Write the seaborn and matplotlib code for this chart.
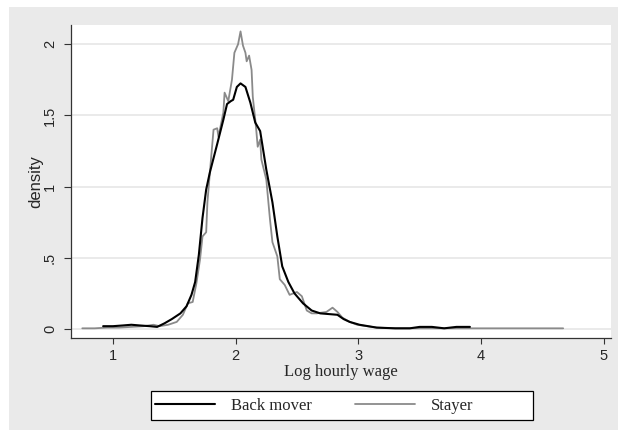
import numpy as np
import pandas as pd
import seaborn as sns
import matplotlib.pyplot as plt
from matplotlib.patches import Rectangle
from matplotlib.lines import Line2D

# density estimates (log hourly wage vs density)
back_x = [0.92, 1.00, 1.08, 1.15, 1.22, 1.30, 1.36, 1.42, 1.48, 1.55, 1.60, 1.64,
          1.67, 1.70, 1.73, 1.76, 1.79, 1.85, 1.90, 1.93, 1.96, 1.98, 2.01, 2.04,
          2.08, 2.12, 2.16, 2.20, 2.25, 2.30, 2.34, 2.38, 2.43, 2.48, 2.55, 2.62,
          2.69, 2.76, 2.83, 2.88, 2.93, 3.01, 3.08, 3.15, 3.30, 3.42, 3.50, 3.60,
          3.70, 3.80, 3.91]
back_y = [0.02, 0.02, 0.025, 0.03, 0.025, 0.02, 0.015, 0.04, 0.07, 0.11, 0.16, 0.24,
          0.33, 0.52, 0.78, 0.98, 1.10, 1.30, 1.47, 1.58, 1.60, 1.61, 1.70, 1.725,
          1.70, 1.59, 1.45, 1.39, 1.12, 0.89, 0.65, 0.44, 0.33, 0.25, 0.18, 0.13,
          0.11, 0.105, 0.10, 0.07, 0.05, 0.03, 0.02, 0.01, 0.005, 0.005, 0.015, 0.015,
          0.005, 0.015, 0.015]

stay_x = [0.75, 0.85, 0.95, 1.05, 1.15, 1.25, 1.33, 1.38, 1.45, 1.52, 1.57, 1.61,
          1.65, 1.68, 1.71, 1.73, 1.76, 1.77, 1.80, 1.82, 1.85, 1.86, 1.90, 1.91,
          1.94, 1.97, 1.99, 2.02, 2.04, 2.06, 2.08, 2.09, 2.11, 2.13, 2.14, 2.16,
          2.17, 2.18, 2.20, 2.21, 2.25, 2.28, 2.30, 2.34, 2.36, 2.40, 2.44, 2.47,
          2.50, 2.54, 2.58, 2.62, 2.66, 2.74, 2.79, 2.83, 2.87, 2.93, 2.99, 3.07,
          3.15, 3.30, 3.60, 4.00, 4.30, 4.67]
stay_y = [0.005, 0.005, 0.01, 0.01, 0.015, 0.02, 0.03, 0.02, 0.03, 0.05, 0.10, 0.18,
          0.19, 0.32, 0.49, 0.65, 0.68, 0.89, 1.20, 1.40, 1.41, 1.35, 1.52, 1.66,
          1.60, 1.75, 1.94, 2.00, 2.09, 1.99, 1.94, 1.88, 1.92, 1.82, 1.63, 1.47,
          1.38, 1.28, 1.33, 1.19, 1.05, 0.77, 0.61, 0.51, 0.35, 0.31, 0.24, 0.25,
          0.26, 0.23, 0.13, 0.11, 0.11, 0.12, 0.15, 0.12, 0.08, 0.05, 0.03, 0.02,
          0.01, 0.005, 0.005, 0.005, 0.005, 0.005]

groups = ['Back mover', 'Stayer']
colors = {'Back mover': 'black', 'Stayer': '#8a8a8a'}
widths = {'Back mover': 1.5, 'Stayer': 1.3}
y_ticks = [0, 0.5, 1, 1.5, 2]
y_labels = ['0', '.5', '1', '1.5', '2']
x_ticks = [1, 2, 3, 4, 5]

df = pd.concat([
    pd.DataFrame({'wage': back_x, 'density': back_y, 'group': groups[0]}),
    pd.DataFrame({'wage': stay_x, 'density': stay_y, 'group': groups[1]}),
])

sns.set_style('white')
plt.rcParams['font.family'] = ['Liberation Sans', 'DejaVu Sans']

W, H = 618, 430
fig = plt.figure(figsize=(W / 100, H / 100), dpi=100, facecolor='white')
# grey outer region (Stata style background)
fig.add_artist(Rectangle((9 / W, 0), 1, 1 - 7 / H, transform=fig.transFigure,
                         facecolor='#eaeaea', edgecolor='none', zorder=-5))

ax = fig.add_axes([71 / W, 1 - 338 / H, (611 - 71) / W, (338 - 25) / H])
ax.set_facecolor('white')

# stayer drawn first so back movers sit on top
for g in ['Stayer', 'Back mover']:
    sns.lineplot(data=df[df['group'] == g], x='wage', y='density', color=colors[g],
                 lw=widths[g], estimator=None, sort=False, ax=ax, legend=False)

ax.set_xlim(0.658, 5.06)
ax.set_ylim(-0.063, 2.135)
ax.set_yticks(y_ticks)
ax.set_yticklabels(y_labels, rotation=90, va='center', fontsize=10.5)
ax.set_xticks(x_ticks)
ax.set_xticklabels([str(t) for t in x_ticks], fontsize=10.5)
ax.grid(axis='y', color='#e8e8e8', lw=1.3)
ax.set_axisbelow(True)
ax.tick_params(axis='both', direction='out', width=0.8, color='#333333')
ax.tick_params(axis='y', left=True, length=5, pad=5)
ax.tick_params(axis='x', bottom=True, length=4, pad=4)
for s in ['top', 'right']:
    ax.spines[s].set_visible(False)
for s in ['left', 'bottom']:
    ax.spines[s].set_color('#333333')
    ax.spines[s].set_linewidth(0.9)

ax.set_xlabel('Log hourly wage', family='Liberation Serif', fontsize=12, labelpad=1)
ax.set_ylabel('density', fontsize=12, labelpad=0)

# legend box below the axis title
fig.add_artist(Rectangle((151 / W, 1 - 420 / H), (533 - 151) / W, 29 / H,
                         transform=fig.transFigure, facecolor='white',
                         edgecolor='black', lw=0.9, zorder=1))
handles = [Line2D([], [], color=colors[g], lw=widths[g]) for g in groups]
fig.legend(handles, groups, loc='center left', bbox_to_anchor=(152 / W, 1 - 405.5 / H),
           ncol=2, frameon=False, prop={'family': 'Liberation Serif', 'size': 12},
           handlelength=3.6, handletextpad=0.95, columnspacing=2.6,
           borderpad=0.2, borderaxespad=0)

fig.savefig('out.png', dpi=100)
